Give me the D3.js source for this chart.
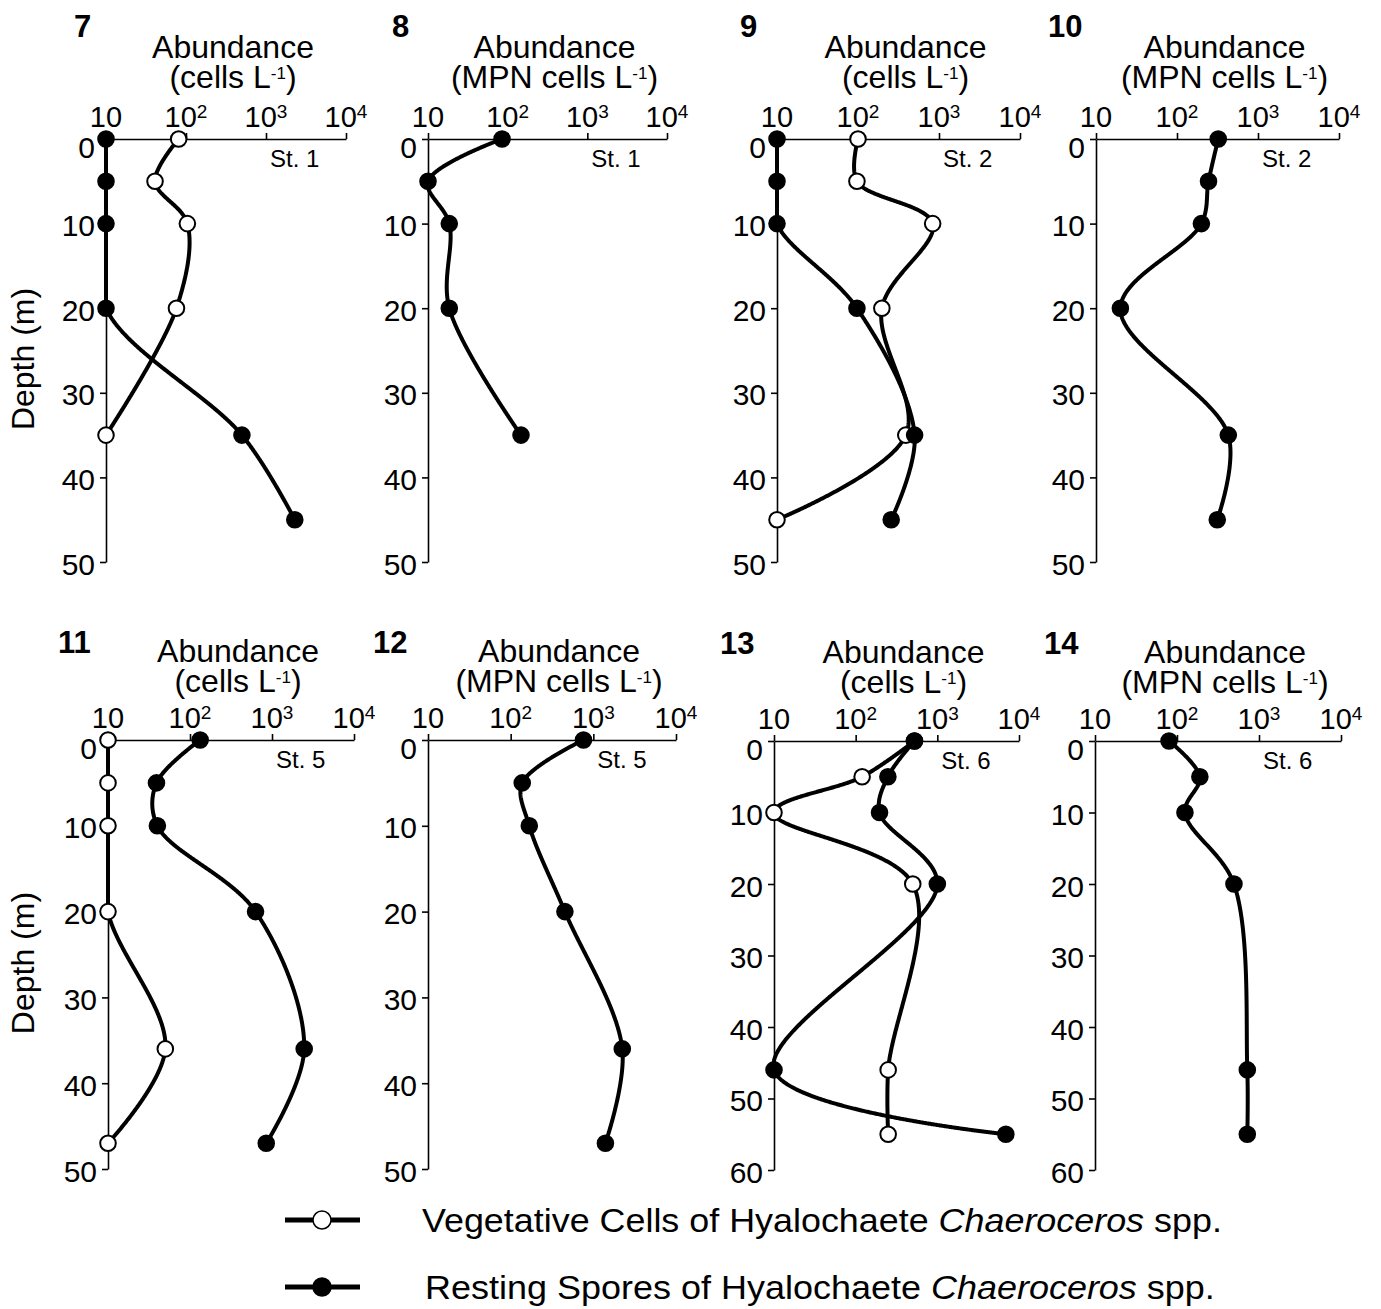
<!DOCTYPE html>
<html>
<head>
<meta charset="utf-8">
<script src="https://cdn.jsdelivr.net/npm/d3@7"></script>
<style>
  body { margin: 0; background: #fff; }
  svg { display: block; font-family: "Liberation Sans", Arial, sans-serif; }
</style>
</head>
<body>
<script>
// depths (m) and abundances; 10 = on the axis (not detected)
var p7VegDepth = [0, 5, 10, 20, 35];
var p7Veg = [81, 41, 104, 76, 10];
var p7RestDepth = [0, 5, 10, 20, 35, 45];
var p7Rest = [10, 10, 10, 10, 500, 2290];

var p8Depth = [0, 5, 10, 20, 35];
var p8Rest = [85, 10, 18.5, 18.5, 147];

var p9Depth = [0, 5, 10, 20, 35, 45];
var p9Veg = [100, 97, 835, 197, 389, 10];
var p9Rest = [10, 10, 10, 97, 500, 257];

var p10Depth = [0, 5, 10, 20, 35, 45];
var p10Rest = [323, 245, 200, 20, 430, 314];

var p11Depth = [0, 5, 10, 20, 36, 47];
var p11Veg = [10, 10, 10, 10, 50, 10];
var p11Rest = [133, 39, 40, 630, 2470, 851];

var p12Depth = [0, 5, 10, 20, 36, 47];
var p12Rest = [760, 138, 168, 453, 2240, 1400];

var p13Depth = [0, 5, 10, 20, 46, 55];
var p13Veg = [525, 120, 10, 500, 250, 250];
var p13Rest = [525, 248, 196, 1000, 10, 6900];

var p14Depth = [0, 5, 10, 20, 46, 55];
var p14Rest = [80, 190, 125, 495, 720, 720];

var xTicks = [10, 100, 1000, 10000];
var panelNames = ["7", "8", "9", "10", "11", "12", "13", "14"];
var stations = ["St. 1", "St. 1", "St. 2", "St. 2", "St. 5", "St. 5", "St. 6", "St. 6"];
var units = ["cells L", "MPN cells L", "cells L", "MPN cells L",
             "cells L", "MPN cells L", "cells L", "MPN cells L"];
var maxDepth = [50, 50, 50, 50, 50, 50, 60, 60];

function zip(d, v) { return d.map(function(dd, i) { return {depth: dd, value: v[i]}; }); }

var series = [
  {veg: zip(p7VegDepth, p7Veg), rest: zip(p7RestDepth, p7Rest)},
  {veg: null, rest: zip(p8Depth, p8Rest)},
  {veg: zip(p9Depth, p9Veg), rest: zip(p9Depth, p9Rest)},
  {veg: null, rest: zip(p10Depth, p10Rest)},
  {veg: zip(p11Depth, p11Veg), rest: zip(p11Depth, p11Rest)},
  {veg: null, rest: zip(p12Depth, p12Rest)},
  {veg: zip(p13Depth, p13Veg), rest: zip(p13Depth, p13Rest)},
  {veg: null, rest: zip(p14Depth, p14Rest)}
];

// panel frames: left axis x, 10^4 x, depth-0 y, max-depth y
var frames = [
  [106, 346, 139, 562], [428, 667, 139, 562], [777, 1020, 139, 562], [1096, 1339, 139, 562],
  [108, 354, 740, 1169], [428, 676, 740, 1169], [774, 1019, 741, 1170], [1095, 1341, 741, 1170]
];
var numberOffset = [32, 36, 37, 48, 50, 55, 54, 51];

var svg = d3.select("body").append("svg")
  .attr("width", 1381)
  .attr("height", 1309);

var spline = d3.line().curve(d3.curveCatmullRom.alpha(0.5));
var flat = d3.line();

// smooth curve, but never drawn left of the depth axis (like the original plot)
function clampedPath(pts, xmin) {
  var tmp = svg.append("path").attr("d", spline(pts));
  var node = tmp.node(), len = node.getTotalLength(), out = [];
  for (var l = 0; l <= len; l += 1) {
    var p = node.getPointAtLength(l);
    out.push([Math.max(xmin, p.x), p.y]);
  }
  var last = node.getPointAtLength(len);
  out.push([Math.max(xmin, last.x), last.y]);
  tmp.remove();
  return flat(out);
}

frames.forEach(function(f, i) {
  var x = d3.scaleLog().domain([10, 10000]).range([f[0], f[1]]);
  var y = d3.scaleLinear().domain([0, maxDepth[i]]).range([f[2], f[3]]);
  var g = svg.append("g");
  var row2 = i >= 4;

  // x axis along the top
  var xa = g.append("g")
    .attr("transform", "translate(0," + f[2] + ")")
    .call(d3.axisTop(x).tickValues(xTicks).tickSize(6).tickSizeOuter(0).tickFormat(""));
  xa.selectAll("path, line").attr("stroke-width", 1.6);

  xTicks.forEach(function(t) {
    var e = Math.round(Math.log10(t));
    var tx = g.append("text")
      .attr("x", x(t))
      .attr("y", f[2] - 12)
      .attr("text-anchor", "middle")
      .attr("font-size", 29)
      .text("10");
    if (e > 1) {
      tx.append("tspan").attr("font-size", 19).attr("dy", -9).text(e);
    }
  });

  // depth axis
  var ya = g.append("g")
    .attr("transform", "translate(" + f[0] + ",0)")
    .call(d3.axisLeft(y).tickValues(d3.range(0, maxDepth[i] + 1, 10)).tickSize(6).tickPadding(5).tickSizeOuter(0));
  ya.selectAll("path, line").attr("stroke-width", 1.6);
  ya.selectAll("text")
    .attr("font-size", 30)
    .attr("font-family", "'Liberation Sans', Arial, sans-serif")
    .attr("fill", "#000")
    .attr("dy", function(d) { return d === 0 ? "0.6em" : "0.4em"; });

  // two-line title in one text element
  var cx = (f[0] + f[1]) / 2 + 7;
  var ty = row2 ? f[2] - 78 : f[2] - 81;
  var title = g.append("text").attr("x", cx).attr("y", ty).attr("text-anchor", "middle")
    .attr("font-size", 32);
  title.append("tspan").attr("x", cx).text("Abundance");
  title.append("tspan").attr("x", cx).attr("dy", 30).text("(" + units[i]);
  title.append("tspan").attr("font-size", 17).attr("dy", -9).text("-1");
  title.append("tspan").attr("dy", 9).text(")");

  g.append("text")
    .attr("x", f[0] - numberOffset[i])
    .attr("y", row2 ? f[2] - 87 : f[2] - 102)
    .attr("font-size", 31)
    .attr("font-weight", "bold")
    .text(panelNames[i]);

  g.append("text")
    .attr("x", x(1000) + 4)
    .attr("y", f[2] + 28)
    .attr("font-size", 24)
    .text(stations[i]);

  if (i === 0 || i === 4) {
    g.append("text")
      .attr("transform", "translate(34," + y(26) + ") rotate(-90)")
      .attr("text-anchor", "middle")
      .attr("font-size", 32)
      .text("Depth (m)");
  }

  var s = series[i];
  var sets = [];
  if (s.veg) sets.push({pts: s.veg, fill: "#fff"});
  sets.push({pts: s.rest, fill: "#000"});

  sets.forEach(function(set) {
    var pts = set.pts.map(function(p) { return [x(p.value), y(p.depth)]; });
    g.append("path")
      .attr("d", clampedPath(pts, f[0]))
      .attr("fill", "none")
      .attr("stroke", "#000")
      .attr("stroke-width", 4)
      .attr("stroke-linejoin", "round");
  });
  sets.forEach(function(set) {
    g.selectAll(null)
      .data(set.pts)
      .enter()
      .append("circle")
      .attr("cx", function(p) { return x(p.value); })
      .attr("cy", function(p) { return y(p.depth); })
      .attr("r", 7.8)
      .attr("fill", set.fill)
      .attr("stroke", "#000")
      .attr("stroke-width", 2);
  });
});

// legend
var legendItems = [
  {label: "Vegetative Cells of Hyalochaete ", fill: "#fff", y: 1220, tx: 422, w: 800},
  {label: "Resting Spores of Hyalochaete ", fill: "#000", y: 1287, tx: 425, w: 790}
];
legendItems.forEach(function(d) {
  svg.append("line")
    .attr("x1", 285).attr("x2", 360)
    .attr("y1", d.y).attr("y2", d.y)
    .attr("stroke", "#000").attr("stroke-width", 5);
  svg.append("circle")
    .attr("cx", 322).attr("cy", d.y).attr("r", 9)
    .attr("fill", d.fill).attr("stroke", "#000").attr("stroke-width", 1.5);
  var t = svg.append("text")
    .attr("font-size", 33)
    .attr("transform", "translate(" + d.tx + "," + (d.y + 12) + ")");
  t.append("tspan").text(d.label);
  t.append("tspan").attr("font-style", "italic").text("Chaeroceros");
  t.append("tspan").text(" spp.");
  var bw = t.node().getBBox().width;
  t.attr("transform", "translate(" + d.tx + "," + (d.y + 12) + ") scale(" + (d.w / bw) + ",1)");
});
</script>
</body>
</html>
